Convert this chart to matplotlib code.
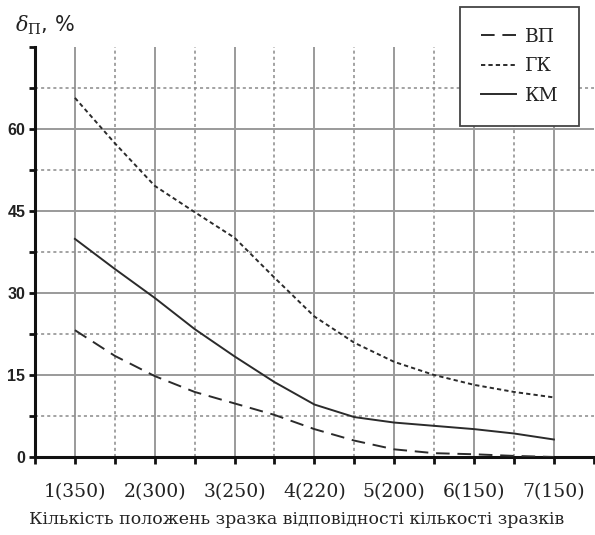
import numpy as np
import matplotlib
matplotlib.use("Agg")
import matplotlib.pyplot as plt

# data (positions 1..7 with half steps)
pos = [1, 1.5, 2, 2.5, 3, 3.5, 4, 4.5, 5, 5.5, 6, 6.5, 7]
vp = [23.2, 18.5, 14.8, 11.9, 9.8, 7.7, 5.1, 3.0, 1.4, 0.7, 0.5, 0.2, 0.0]
gk = [65.7, 57.4, 49.6, 44.8, 40.1, 32.8, 25.7, 20.9, 17.4, 15.0, 13.2, 11.9, 10.9]
km = [39.9, 34.4, 29.1, 23.4, 18.4, 13.7, 9.6, 7.3, 6.3, 5.7, 5.1, 4.3, 3.2]
xlabels = ["1(350)", "2(300)", "3(250)", "4(220)", "5(200)", "6(150)", "7(150)"]
ylabels = [0, 15, 30, 45, 60]

plt.rcParams['mathtext.fontset'] = 'dejavuserif'

fig = plt.figure(figsize=(5.95, 5.35), dpi=100)
ax = fig.add_axes([35/595, 78/535, 1 - 35/595 - 0.002, (457 - 47)/535])

lc = '#2b2b2b'
ax.plot(pos, vp, color=lc, lw=1.4, ls=(0, (7, 4)), label='ВП', zorder=3)
ax.plot(pos, gk, color=lc, lw=1.4, ls=(0, (2.2, 1.6)), label='ГК', zorder=3)
ax.plot(pos, km, color=lc, lw=1.4, ls='-', label='КМ', zorder=3)

ax.set_xlim(0.5, 7.5)
ax.set_ylim(0, 75)

ax.set_xticks(np.arange(1, 8))
ax.set_xticks(np.arange(0.5, 7.6, 0.5), minor=True)
ax.set_xticklabels(xlabels, family='DejaVu Serif', fontsize=13.5, color='#222')
ax.set_yticks(ylabels)
ax.set_yticks(np.arange(0, 76, 7.5), minor=True)
ax.set_yticklabels([str(v) for v in ylabels], family='Liberation Sans',
                   fontweight='bold', fontsize=11.5, color='#222')

ax.tick_params(axis='x', which='both', direction='out', length=5, width=2,
               color='#111', pad=14)
ax.tick_params(axis='y', which='both', direction='out', length=4, width=2,
               color='#111', pad=3)

ax.grid(which='major', color='#9a9a9a', lw=1.4, ls='-', zorder=0)
ax.grid(which='minor', color='#8a8a8a', lw=1.1, ls=(0, (2, 2)), zorder=0)
ax.set_axisbelow(True)

# no grid line along the top edge and the right edge
ax.yaxis.get_minor_ticks()[-1].gridline.set_visible(False)
ax.xaxis.get_minor_ticks()[-1].gridline.set_visible(False)
ax.xaxis.get_minor_ticks()[0].gridline.set_visible(False)

for s in ['top', 'right']:
    ax.spines[s].set_visible(False)
for s in ['left', 'bottom']:
    ax.spines[s].set_linewidth(2.2)
    ax.spines[s].set_color('#111')

ax.set_xlabel('Кількість положень зразка відповідності кількості зразків',
              family='DejaVu Serif', fontsize=12.5, color='#222', labelpad=7)
ax.xaxis.label.set_x(0.469)

fig.text(15/595, 1 - 25/535, r'$\delta_{\mathrm{П}}$, %', fontsize=15,
         color='#222', va='center', ha='left')

leg = ax.legend(loc='upper right', bbox_to_anchor=(579/595, 1 - 7/535),
                bbox_transform=fig.transFigure, frameon=True, fancybox=False,
                prop={'family': 'DejaVu Serif', 'size': 13.5},
                handlelength=1.9, labelspacing=0.62, borderpad=1.1,
                handletextpad=0.45, borderaxespad=0)
leg.get_frame().set_edgecolor('#444')
leg.get_frame().set_linewidth(1.3)
leg.get_frame().set_alpha(1)
for t in leg.get_texts():
    t.set_color('#222')

fig.savefig('out.png', dpi=100)
